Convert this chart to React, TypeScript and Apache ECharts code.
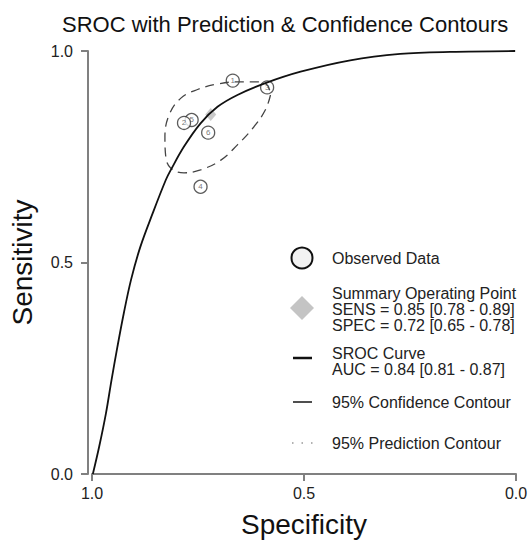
import React, { useEffect, useRef } from "react";
import * as echarts from "echarts";

const FONT = "Liberation Sans, Arial, Helvetica, sans-serif";

// Observed studies: [specificity, sensitivity]
const studyLabels = ["5", "1", "3", "4", "6", "2"];
const studySpec = [0.765, 0.668, 0.587, 0.744, 0.726, 0.783];
const studySens = [0.837, 0.930, 0.914, 0.679, 0.807, 0.830];

// Summary operating point
const summarySpec = 0.72;
const summarySens = 0.85;

// SROC curve
const srocSpec = [0.998, 0.983, 0.967, 0.954, 0.94, 0.925, 0.908, 0.886, 0.857, 0.826, 0.814, 0.783, 0.744, 0.704, 0.657, 0.591, 0.508, 0.391, 0.273, 0.155, 0.002];
const srocSens = [0.0, 0.065, 0.144, 0.222, 0.301, 0.38, 0.459, 0.537, 0.616, 0.695, 0.719, 0.774, 0.829, 0.868, 0.896, 0.924, 0.951, 0.978, 0.993, 0.998, 1.0];

// 95% confidence contour
const confSpec = [0.579, 0.591, 0.618, 0.657, 0.696, 0.744, 0.783, 0.814, 0.826, 0.828, 0.818, 0.791, 0.751, 0.704, 0.657, 0.61, 0.587, 0.579];
const confSens = [0.896, 0.861, 0.821, 0.778, 0.742, 0.719, 0.712, 0.723, 0.75, 0.797, 0.849, 0.888, 0.909, 0.922, 0.927, 0.927, 0.92, 0.896];

const xTicks = [0, 0.5, 1];
const yTicks = [0, 0.5, 1];

const legendTexts = [
  ["Observed Data"],
  ["Summary Operating Point", "SENS = 0.85 [0.78 - 0.89]", "SPEC = 0.72 [0.65 - 0.78]"],
  ["SROC Curve", "AUC = 0.84 [0.81 - 0.87]"],
  ["95% Confidence Contour"],
  ["95% Prediction Contour"],
];

export default function App() {
  const ref = useRef<HTMLDivElement>(null);
  useEffect(() => {
    if (!ref.current) return;
    const chart = echarts.init(ref.current, null, { renderer: "svg" });
    const axisColor = "#808080";
    const lx = 332;
    const textStyle = (t: string, y: number) => ({
      type: "text",
      left: lx,
      top: y,
      style: { text: t, font: `16px ${FONT}`, fill: "#222", lineHeight: 16 },
    });
    chart.setOption({
      animation: false,
      title: {
        text: "SROC with Prediction & Confidence Contours",
        left: 57,
        top: 8,
        textStyle: { fontFamily: FONT, fontSize: 22, fontWeight: "normal", color: "#111" },
      },
      grid: { left: 91, right: 15, top: 51, bottom: 69 },
      xAxis: {
        type: "value",
        inverse: true,
        min: xTicks[0],
        max: xTicks[xTicks.length - 1],
        interval: 0.5,
        name: "Specificity",
        nameLocation: "middle",
        nameGap: 36,
        nameTextStyle: { fontFamily: FONT, fontSize: 28, color: "#111" },
        axisLine: { show: true, onZero: false, lineStyle: { color: axisColor, width: 2 } },
        axisTick: { show: true, length: 7, lineStyle: { color: axisColor, width: 2 } },
        axisLabel: { fontFamily: FONT, fontSize: 16, color: "#222", margin: 11, formatter: (v: number) => v.toFixed(1) },
        splitLine: { show: false },
      },
      yAxis: {
        type: "value",
        min: yTicks[0],
        max: yTicks[yTicks.length - 1],
        interval: 0.5,
        offset: 4,
        name: "Sensitivity",
        nameLocation: "middle",
        nameGap: 52,
        nameRotate: 90,
        nameTextStyle: { fontFamily: FONT, fontSize: 28, color: "#111" },
        axisLine: { show: true, onZero: false, lineStyle: { color: axisColor, width: 2 } },
        axisTick: { show: true, length: 7, lineStyle: { color: axisColor, width: 2 } },
        axisLabel: { fontFamily: FONT, fontSize: 16, color: "#222", margin: 15, formatter: (v: number) => v.toFixed(1) },
        splitLine: { show: false },
      },
      series: [
        {
          type: "scatter",
          data: studySpec.map((s, i) => ({ value: [s, studySens[i]], name: studyLabels[i] })),
          symbol: "circle",
          symbolSize: 13,
          itemStyle: { color: "#ffffff", borderColor: "#333", borderWidth: 1.3 },
          label: { show: true, position: "inside", formatter: (p: any) => p.name, fontSize: 8, color: "#555", fontFamily: FONT },
          z: 2,
        },
        {
          type: "scatter",
          data: [[summarySpec, summarySens]],
          symbol: "diamond",
          symbolSize: [11, 13],
          itemStyle: { color: "#bdbdbd" },
          z: 2,
        },
        {
          type: "line",
          data: confSpec.map((s, i) => [s, confSens[i]]),
          smooth: 0.4,
          showSymbol: false,
          lineStyle: { color: "#444", width: 1.3, type: [9, 6] },
          z: 3,
        },
        {
          type: "line",
          data: srocSpec.map((s, i) => [s, srocSens[i]]),
          smooth: 0.35,
          showSymbol: false,
          lineStyle: { color: "#111", width: 1.8 },
          z: 3,
        },
      ],
      graphic: [
        { type: "circle", shape: { cx: 302, cy: 258, r: 10.5 }, style: { fill: "#f2f2f2", stroke: "#111", lineWidth: 2 } },
        textStyle(legendTexts[0][0], 250),
        { type: "polygon", shape: { points: [[302, 296], [314, 308], [302, 320], [290, 308]] }, style: { fill: "#c4c4c4" } },
        textStyle(legendTexts[1].join("\n"), 285),
        { type: "line", shape: { x1: 293, y1: 358, x2: 312, y2: 358 }, style: { stroke: "#111", lineWidth: 2.5 } },
        textStyle(legendTexts[2].join("\n"), 345),
        { type: "line", shape: { x1: 293, y1: 402, x2: 312, y2: 402 }, style: { stroke: "#222", lineWidth: 1.6 } },
        textStyle(legendTexts[3][0], 394),
        { type: "line", shape: { x1: 292, y1: 443, x2: 314, y2: 443 }, style: { stroke: "#999", lineWidth: 1.5, lineDash: [1.5, 8] } },
        textStyle(legendTexts[4][0], 435),
      ],
    });
    return () => chart.dispose();
  }, []);
  return <div ref={ref} style={{ position: "fixed", left: 0, top: 0, width: 531, height: 543, background: "#fff" }} />;
}
